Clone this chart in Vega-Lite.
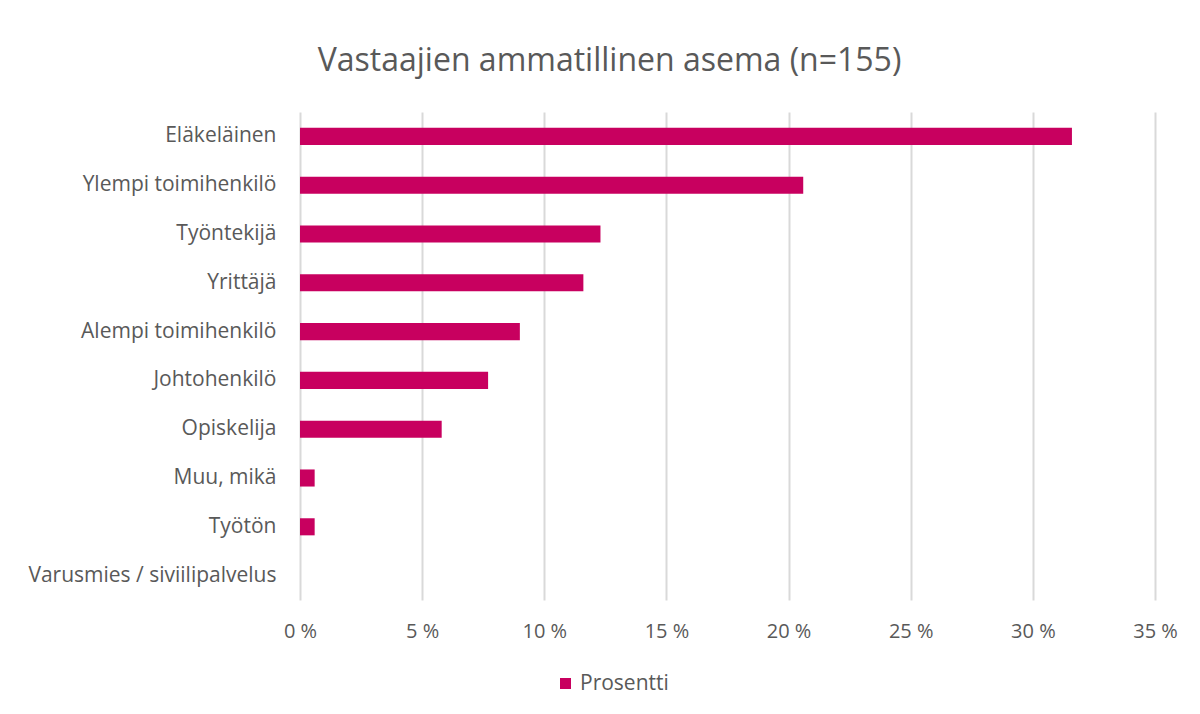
{
  "$schema": "https://vega.github.io/schema/vega-lite/v6.json",
  "autosize": "none",
  "width": 855,
  "height": 488,
  "padding": {"left": 300, "top": 112, "right": 45, "bottom": 114},
  "background": "white",
  "title": {
    "text": "Vastaajien ammatillinen asema (n=155)",
    "font": "Open Sans",
    "fontSize": 32,
    "fontWeight": "normal",
    "color": "#595959",
    "anchor": "middle",
    "dx": -118,
    "offset": 34
  },
  "data": {
    "values": [
      {"asema": "Eläkeläinen", "sarja": "Prosentti", "prosentti": 31.6},
      {"asema": "Ylempi toimihenkilö", "sarja": "Prosentti", "prosentti": 20.6},
      {"asema": "Työntekijä", "sarja": "Prosentti", "prosentti": 12.3},
      {"asema": "Yrittäjä", "sarja": "Prosentti", "prosentti": 11.6},
      {"asema": "Alempi toimihenkilö", "sarja": "Prosentti", "prosentti": 9.0},
      {"asema": "Johtohenkilö", "sarja": "Prosentti", "prosentti": 7.7},
      {"asema": "Opiskelija", "sarja": "Prosentti", "prosentti": 5.8},
      {"asema": "Muu, mikä", "sarja": "Prosentti", "prosentti": 0.6},
      {"asema": "Työtön", "sarja": "Prosentti", "prosentti": 0.6},
      {"asema": "Varusmies / siviilipalvelus", "sarja": "Prosentti", "prosentti": 0}
    ]
  },
  "mark": {"type": "bar"},
  "encoding": {
    "y": {
      "field": "asema",
      "type": "nominal",
      "sort": null,
      "scale": {"paddingInner": 0.65, "paddingOuter": 0.325},
      "axis": {
        "title": null,
        "domain": false,
        "ticks": false,
        "grid": false,
        "labelFont": "Open Sans",
        "labelFontSize": 21,
        "labelColor": "#595959",
        "labelPadding": 24,
        "labelLimit": 300
      }
    },
    "x": {
      "field": "prosentti",
      "type": "quantitative",
      "scale": {"domain": [0, 35], "nice": false},
      "axis": {
        "title": null,
        "values": [0, 5, 10, 15, 20, 25, 30, 35],
        "labelExpr": "datum.value + ' %'",
        "labelFlush": false,
        "domain": false,
        "ticks": false,
        "grid": true,
        "gridColor": "#d9d9d9",
        "gridWidth": 2,
        "labelFont": "Open Sans",
        "labelFontSize": 20,
        "labelColor": "#595959",
        "labelPadding": 21
      }
    },
    "color": {
      "field": "sarja",
      "type": "nominal",
      "scale": {"range": ["#C8005F"]},
      "legend": {
        "title": null,
        "orient": "none",
        "legendX": 255,
        "legendY": 561,
        "symbolType": "square",
        "symbolSize": 121,
        "labelFont": "Open Sans",
        "labelFontSize": 21,
        "labelColor": "#595959"
      }
    }
  },
  "config": {"view": {"stroke": null}}
}
